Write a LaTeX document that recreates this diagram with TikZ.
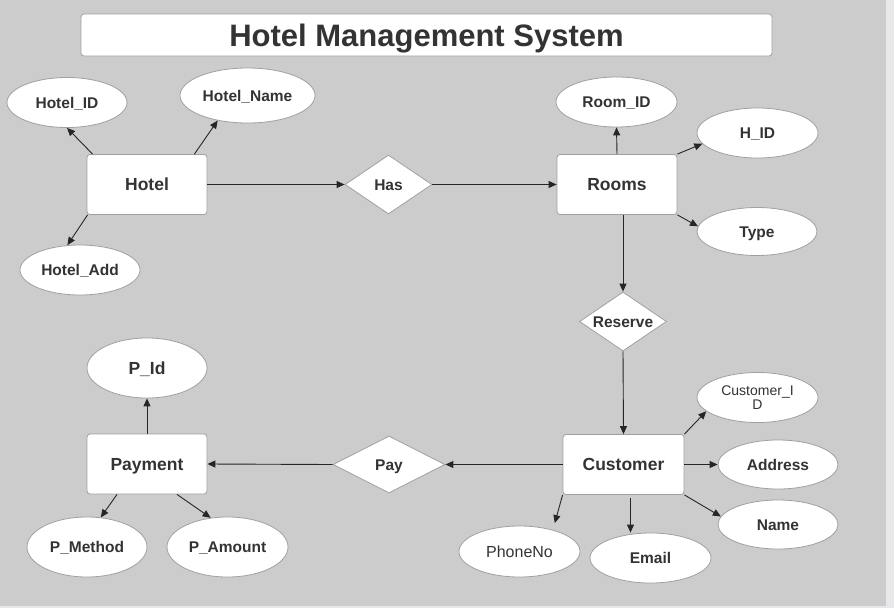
\documentclass[tikz,border=0pt]{standalone}
\usepackage{fontspec}
\setmainfont{Liberation Sans}
\usepackage{tikz}
\usetikzlibrary{arrows.meta,positioning,shapes.geometric}

\definecolor{canvasgrey}{HTML}{CCCCCC}
\definecolor{edgegrey}{HTML}{A0A0A0}
\definecolor{stripgrey}{HTML}{E8E8EA}
\definecolor{ink}{HTML}{333333}

\begin{document}
\begin{tikzpicture}[x=1pt,y=-1pt,
    entity/.style={rectangle,rounded corners=3pt,draw=edgegrey,line width=0.8pt,fill=white,
        minimum width=120pt,minimum height=60pt,inner sep=0pt,text=ink,
        text height=12.5pt,text depth=0pt,
        font=\fontsize{17.5}{19}\selectfont\bfseries},
    attr/.style={ellipse,draw=edgegrey,line width=0.8pt,fill=white,
        minimum width=120pt,minimum height=50pt,inner sep=0pt,text=ink,
        text height=11pt,text depth=0pt,
        font=\fontsize{15.5}{17}\selectfont\bfseries},
    rel/.style={diamond,draw=edgegrey,line width=0.8pt,fill=white,aspect=1.5,
        minimum width=87pt,minimum height=59pt,inner sep=0pt,text=ink,
        text height=11pt,text depth=0pt,
        font=\fontsize{15.5}{17}\selectfont\bfseries},
    link/.style={-{Triangle[length=8pt,width=7pt]},line width=0.9pt,draw=black!85},
   ]

    % page and canvas
    \useasboundingbox (0,0) rectangle (894,608);
    \fill[stripgrey] (0,0) rectangle (894,608);
    \fill[canvasgrey] (0,0) rectangle (886,606);

    \node (title) [rectangle,rounded corners=3pt,draw=edgegrey,line width=0.8pt,fill=white,
        minimum width=691pt,minimum height=42pt,text=ink,inner sep=0pt,
        text height=22pt,text depth=0pt,
        font=\fontsize{31}{34}\selectfont\bfseries] at (426.5,35) {Hotel Management System};

    % hotel side
    \node (hotel)     [entity] at (147,184.5) {Hotel};
    \node (hotelid)   [attr] at (67,102.5) {Hotel\_ID};
    \node (hotelname) [attr,minimum width=135pt,minimum height=55pt] at (247.5,95.5) {Hotel\_Name};
    \node (hoteladd)  [attr] at (80,270) {Hotel\_Add};
    \node (has)       [rel] at (388.5,184.5) {Has};

    % rooms side
    \node (rooms)  [entity] at (617,184.5) {Rooms};
    \node (roomid) [attr,minimum width=121pt] at (616.5,102) {Room\_ID};
    \node (hid)    [attr,minimum width=121pt] at (757.5,133) {H\_ID};
    \node (type)   [attr,minimum height=48pt] at (757,231.5) {Type};
    \node (reserve) [rel] at (623,321.5) {Reserve};

    % customer side
    \node (customer) [entity,minimum width=121pt] at (623.5,464.5) {Customer};
    \node (cid)      [attr,minimum width=121pt,align=center,text height=,text depth=,
        font=\fontsize{14}{14}\selectfont] at (757.5,397.5) {Customer\_I\\D};
    \node (address)  [attr,minimum height=49pt] at (778,464.5) {Address};
    \node (name)     [attr,minimum height=49pt] at (778,524.5) {Name};
    \node (email)    [attr,minimum width=121pt] at (650.5,558) {Email};
    \node (phoneno)  [attr,minimum width=121pt,minimum height=51pt,
        font=\fontsize{16}{18}\selectfont] at (519.5,551.5) {PhoneNo};
    \node (pay)      [rel,minimum width=112pt,minimum height=57pt] at (389,464.5) {Pay};

    % payment side
    \node (payment) [entity] at (147,464) {Payment};
    \node (pid)     [attr,minimum height=60pt,text height=12.5pt,
        font=\fontsize{17.5}{19}\selectfont\bfseries] at (147,368) {P\_Id};
    \node (pmethod) [attr,minimum height=60pt] at (87,547) {P\_Method};
    \node (pamount) [attr,minimum width=121pt,minimum height=60pt] at (227.5,547) {P\_Amount};

    \draw[link] ([xshift=6pt]hotel.north west) -- (hotelid.south);
    \draw[link] ([xshift=-13pt]hotel.north east) -- (hotelname.220);
    \draw[link] ([xshift=1pt]hotel.south west) -- (hoteladd.117);
    \draw[link] (hotel.east) -- (has.west);
    \draw[link] (has.east) -- (rooms.west);

    \draw[link] (rooms.north) -- (roomid.south);
    \draw[link] (rooms.north east) -- (hid.191);
    \draw[link] (rooms.south east) -- (type.175);
    \draw[link] (rooms.south -| reserve.north) -- (reserve.north);
    \draw[link] (reserve.south) -- (customer.north);

    \draw[link] (customer.north east) -- (cid.195);
    \draw[link] (customer.east) -- (address.west);
    \draw[link] (customer.south east) -- (name.172);
    \draw[link] ([xshift=7pt,yshift=-3pt]customer.south) -- ([xshift=7pt]customer.south |- email.north);
    \draw[link,shorten >=7pt] (customer.south west) -- (phoneno.33);
    \draw[link] (customer.west) -- (pay.east);
    \draw[link] (pay.west) -- (payment.east);

    \draw[link] (payment.north) -- (pid.south);
    \draw[link] ([xshift=-30pt]payment.south) -- (pmethod.65);
    \draw[link] ([xshift=30pt]payment.south) -- (pamount.120);
\end{tikzpicture}
\end{document}
